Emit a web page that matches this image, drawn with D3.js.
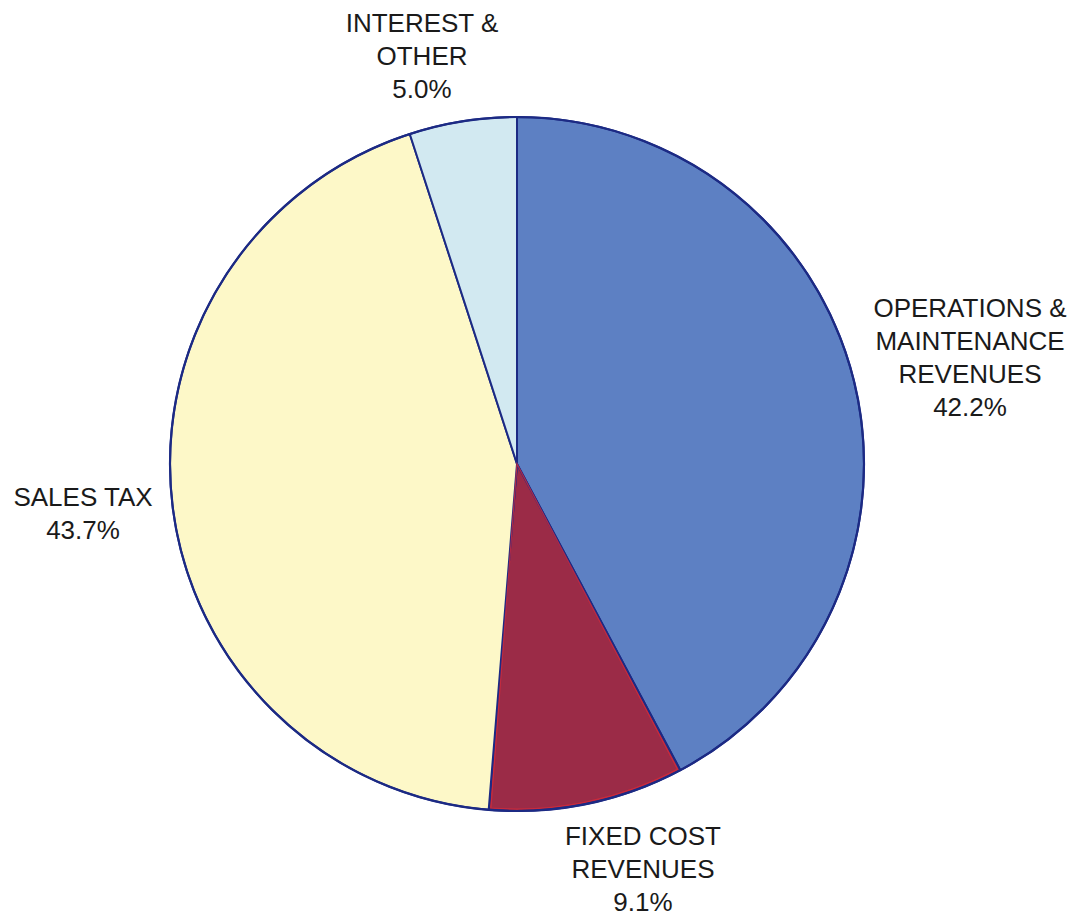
<!DOCTYPE html>
<html>
<head>
<meta charset="utf-8">
<script src="https://cdn.jsdelivr.net/npm/d3@7"></script>
<style>
  html, body { margin: 0; padding: 0; background: #ffffff; }
  svg { display: block; }
  text { font-family: "Liberation Sans", Arial, Helvetica, sans-serif; fill: #1a1a1a; }
</style>
</head>
<body>
<svg id="chart" width="1079" height="920"></svg>
<script>
// Revenue sources, clockwise from 12 o'clock
const categories = ["OPERATIONS & MAINTENANCE REVENUES", "FIXED COST REVENUES", "SALES TAX", "INTEREST & OTHER"];
const labelLines = [
  ["OPERATIONS &", "MAINTENANCE", "REVENUES"],
  ["FIXED COST", "REVENUES"],
  ["SALES TAX"],
  ["INTEREST &", "OTHER"]
];
const shares = [42.2, 9.1, 43.7, 5.0];
const colors = ["#5d80c3", "#9b2b47", "#fdf8c8", "#d2e9f1"];

const width = 1079, height = 920;
const cx = 517, cy = 464, radius = 347;

// label block centres (x) and first-line baselines (y)
const labelPos = [
  { x: 970, y: 317 },
  { x: 643, y: 845 },
  { x: 83,  y: 506 },
  { x: 422, y: 32 }
];
const lineHeight = 33;

const data = categories.map((c, i) => ({ name: c, value: shares[i], lines: labelLines[i], color: colors[i], pos: labelPos[i] }));

const svg = d3.select("#chart");
const g = svg.append("g").attr("transform", `translate(${cx},${cy})`);

const pie = d3.pie().sort(null).value(d => d.value);
const arc = d3.arc().innerRadius(0).outerRadius(radius);

const arcs = pie(data);

g.selectAll("path.slice")
  .data(arcs)
  .join("path")
  .attr("class", "slice")
  .attr("d", arc)
  .attr("fill", d => d.data.color)
  .attr("stroke", "#1c2a84")
  .attr("stroke-width", 2)
  .attr("stroke-linejoin", "round");

// thin red inner rim on the fixed-cost wedge
const inner = d3.arc().innerRadius(0).outerRadius(radius - 2);
g.append("path")
  .attr("d", inner({ startAngle: arcs[1].startAngle + 0.006, endAngle: arcs[1].endAngle - 0.006 }))
  .attr("fill", "none")
  .attr("stroke", "#d42a3a")
  .attr("stroke-width", 1.2)
  .attr("opacity", 0.8);

// outer rim
g.append("circle").attr("r", radius).attr("fill", "none").attr("stroke", "#1c2a84").attr("stroke-width", 2.2);

const labels = svg.selectAll("text.lbl")
  .data(data)
  .join("text")
  .attr("class", "lbl")
  .attr("text-anchor", "middle")
  .attr("font-size", 26);

labels.each(function(d) {
  const t = d3.select(this);
  const lines = d.lines.concat([d3.format(".1f")(d.value) + "%"]);
  lines.forEach((ln, k) => {
    t.append("tspan").attr("x", d.pos.x).attr("y", d.pos.y + k * lineHeight).text(ln);
  });
});
</script>
</body>
</html>
